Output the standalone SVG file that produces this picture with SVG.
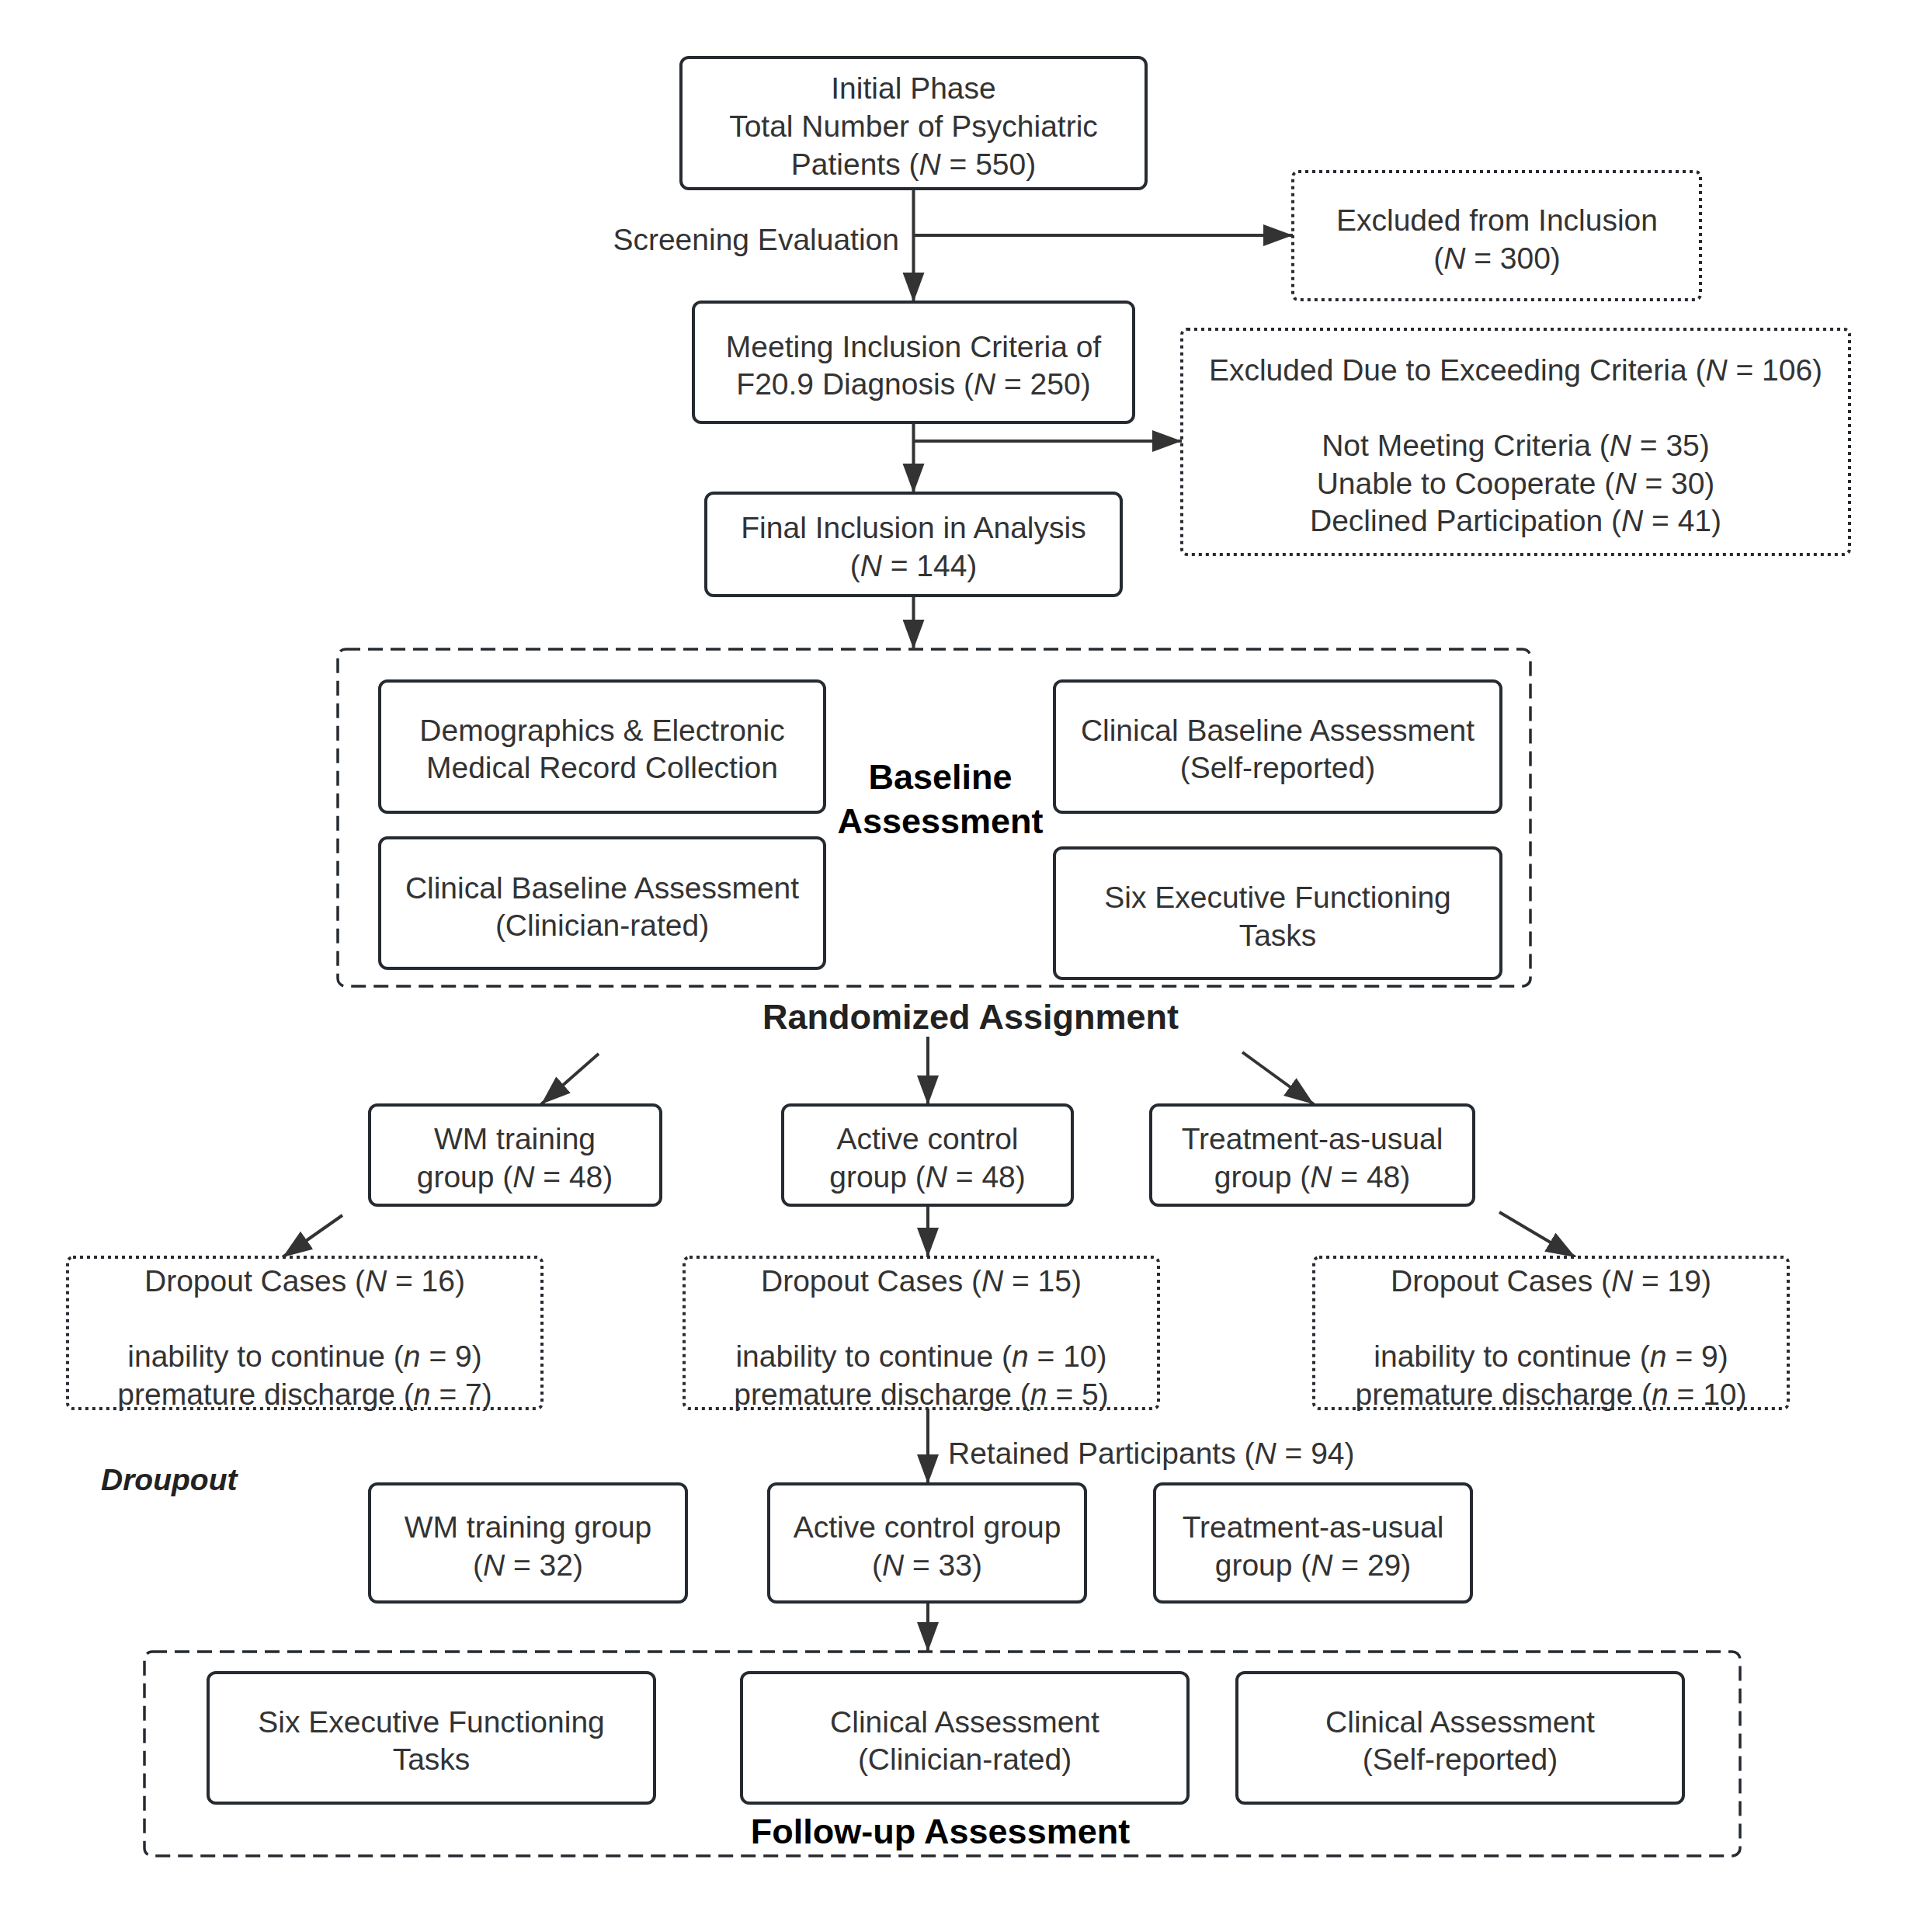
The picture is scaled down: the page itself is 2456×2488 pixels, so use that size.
<svg xmlns="http://www.w3.org/2000/svg" width="2456" height="2488" viewBox="0 0 2456 2488">
<style>
  .bg { fill: #ffffff; }
  .box { fill: #ffffff; stroke: #262b31; stroke-width: 4; }
  .dot { fill: #ffffff; stroke: #262b31; stroke-width: 4; stroke-dasharray: 4 5; }
  .dash { fill: none; stroke: #262b31; stroke-width: 3.5; stroke-dasharray: 19 10; }
  text { font-family: "Liberation Sans", Arial, "DejaVu Sans", sans-serif; font-size: 39px; fill: #333333; text-anchor: middle; }
  .title { font-weight: bold; font-size: 45px; fill: #000000; }
  .rand { font-weight: bold; font-size: 45px; fill: #222222; }
  .side { font-weight: bold; font-style: italic; fill: #222222; text-anchor: start; }
  .conn line { stroke: #333333; stroke-width: 4; fill: none; }
  .i { font-style: italic; }
</style>
<defs>
  <marker id="arrow" markerUnits="userSpaceOnUse" viewBox="0 0 38 28" markerWidth="38" markerHeight="28" refX="38" refY="14" orient="auto">
    <path d="M0,0 L38,14 L0,28 Z" fill="#333333"/>
  </marker>
</defs>
<rect class="bg" x="0" y="0" width="2456" height="2488"/>

<g id="baseline-cluster">
  <rect class="dash" x="435" y="836" width="1536" height="434" rx="10"/>
  <text class="title" x="1211" y="1016">Baseline</text>
  <text class="title" x="1211" y="1073">Assessment</text>
</g>
<g id="followup-cluster">
  <rect class="dash" x="186" y="2127" width="2055" height="263" rx="10"/>
  <text class="title" x="1211" y="2374">Follow-up Assessment</text>
</g>

<g class="conn" id="connectors">
  <line x1="1176.5" y1="243" x2="1176.5" y2="389" marker-end="url(#arrow)"/>
  <line x1="1176.5" y1="303" x2="1665" y2="303" marker-end="url(#arrow)"/>
  <line x1="1176.5" y1="544" x2="1176.5" y2="635" marker-end="url(#arrow)"/>
  <line x1="1176.5" y1="568" x2="1522" y2="568" marker-end="url(#arrow)"/>
  <line x1="1176.5" y1="767" x2="1176.5" y2="836" marker-end="url(#arrow)"/>
  <line x1="771" y1="1357" x2="697" y2="1422" marker-end="url(#arrow)"/>
  <line x1="1195" y1="1335" x2="1195" y2="1423" marker-end="url(#arrow)"/>
  <line x1="1600" y1="1355" x2="1692" y2="1422" marker-end="url(#arrow)"/>
  <line x1="441" y1="1565" x2="364" y2="1619" marker-end="url(#arrow)"/>
  <line x1="1195" y1="1552" x2="1195" y2="1619" marker-end="url(#arrow)"/>
  <line x1="1931" y1="1561" x2="2029" y2="1619" marker-end="url(#arrow)"/>
  <line x1="1195" y1="1814" x2="1195" y2="1911" marker-end="url(#arrow)"/>
  <line x1="1195" y1="2063" x2="1195" y2="2127" marker-end="url(#arrow)"/>
  <text x="1158" y="322" style="text-anchor:end">Screening Evaluation</text>
  <text x="1221" y="1885" style="text-anchor:start">Retained Participants (<tspan class="i">N</tspan> = 94)</text>
</g>

<g id="initial">
  <rect class="box" x="877" y="74" width="599" height="169" rx="10"/>
  <text x="1176.5" y="126.5">Initial Phase</text>
  <text x="1176.5" y="175.5">Total Number of Psychiatric</text>
  <text x="1176.5" y="224.5">Patients (<tspan class="i">N</tspan> = 550)</text>
</g>
<g id="excluded1">
  <rect class="dot" x="1665" y="221" width="525" height="165" rx="7"/>
  <text x="1928" y="296.5">Excluded from Inclusion</text>
  <text x="1928" y="345.5">(<tspan class="i">N</tspan> = 300)</text>
</g>
<g id="meeting">
  <rect class="box" x="893" y="389" width="567" height="155" rx="10"/>
  <text x="1176.5" y="459.5">Meeting Inclusion Criteria of</text>
  <text x="1176.5" y="508">F20.9 Diagnosis (<tspan class="i">N</tspan> = 250)</text>
</g>
<g id="excluded2">
  <rect class="dot" x="1522" y="424" width="860" height="290" rx="7"/>
  <text x="1952" y="490">Excluded Due to Exceeding Criteria (<tspan class="i">N</tspan> = 106)</text>
  <text x="1952" y="587">Not Meeting Criteria (<tspan class="i">N</tspan> = 35)</text>
  <text x="1952" y="635.5">Unable to Cooperate (<tspan class="i">N</tspan> = 30)</text>
  <text x="1952" y="684">Declined Participation (<tspan class="i">N</tspan> = 41)</text>
</g>
<g id="final">
  <rect class="box" x="909" y="635" width="535" height="132" rx="10"/>
  <text x="1176.5" y="693">Final Inclusion in Analysis</text>
  <text x="1176.5" y="742">(<tspan class="i">N</tspan> = 144)</text>
</g>

<g id="demographics">
  <rect class="box" x="489" y="877" width="573" height="169" rx="10"/>
  <text x="775.5" y="953.5">Demographics &amp; Electronic</text>
  <text x="775.5" y="1002">Medical Record Collection</text>
</g>
<g id="clin-baseline-rated">
  <rect class="box" x="489" y="1079" width="573" height="168" rx="10"/>
  <text x="775.5" y="1156.5">Clinical Baseline Assessment</text>
  <text x="775.5" y="1205">(Clinician-rated)</text>
</g>
<g id="clin-baseline-self">
  <rect class="box" x="1358" y="877" width="575" height="169" rx="10"/>
  <text x="1645.5" y="953.5">Clinical Baseline Assessment</text>
  <text x="1645.5" y="1002">(Self-reported)</text>
</g>
<g id="exec-baseline">
  <rect class="box" x="1358" y="1092" width="575" height="168" rx="10"/>
  <text x="1645.5" y="1169">Six Executive Functioning</text>
  <text x="1645.5" y="1218">Tasks</text>
</g>

<g id="randomized">
  <text class="rand" x="1250" y="1325">Randomized Assignment</text>
</g>

<g id="wm1">
  <rect class="box" x="476" y="1423" width="375" height="129" rx="10"/>
  <text x="663" y="1480">WM training</text>
  <text x="663" y="1529">group (<tspan class="i">N</tspan> = 48)</text>
</g>
<g id="active1">
  <rect class="box" x="1008" y="1423" width="373" height="129" rx="10"/>
  <text x="1194.5" y="1480">Active control</text>
  <text x="1194.5" y="1529">group (<tspan class="i">N</tspan> = 48)</text>
</g>
<g id="tau1">
  <rect class="box" x="1482" y="1423" width="416" height="129" rx="10"/>
  <text x="1690" y="1480">Treatment-as-usual</text>
  <text x="1690" y="1529">group (<tspan class="i">N</tspan> = 48)</text>
</g>

<g id="dropout-wm">
  <rect class="dot" x="87" y="1619" width="611" height="195" rx="7"/>
  <text x="392.5" y="1663">Dropout Cases (<tspan class="i">N</tspan> = 16)</text>
  <text x="392.5" y="1760">inability to continue (<tspan class="i">n</tspan> = 9)</text>
  <text x="392.5" y="1808.5">premature discharge (<tspan class="i">n</tspan> = 7)</text>
</g>
<g id="dropout-active">
  <rect class="dot" x="881" y="1619" width="611" height="195" rx="7"/>
  <text x="1186.5" y="1663">Dropout Cases (<tspan class="i">N</tspan> = 15)</text>
  <text x="1186.5" y="1760">inability to continue (<tspan class="i">n</tspan> = 10)</text>
  <text x="1186.5" y="1808.5">premature discharge (<tspan class="i">n</tspan> = 5)</text>
</g>
<g id="dropout-tau">
  <rect class="dot" x="1692" y="1619" width="611" height="195" rx="7"/>
  <text x="1997.5" y="1663">Dropout Cases (<tspan class="i">N</tspan> = 19)</text>
  <text x="1997.5" y="1760">inability to continue (<tspan class="i">n</tspan> = 9)</text>
  <text x="1997.5" y="1808.5">premature discharge (<tspan class="i">n</tspan> = 10)</text>
</g>

<g id="droupout-label">
  <text class="side" x="130" y="1919">Droupout</text>
</g>

<g id="wm2">
  <rect class="box" x="476" y="1911" width="408" height="152" rx="10"/>
  <text x="680" y="1980">WM training group</text>
  <text x="680" y="2029">(<tspan class="i">N</tspan> = 32)</text>
</g>
<g id="active2">
  <rect class="box" x="990" y="1911" width="408" height="152" rx="10"/>
  <text x="1194" y="1980">Active control group</text>
  <text x="1194" y="2029">(<tspan class="i">N</tspan> = 33)</text>
</g>
<g id="tau2">
  <rect class="box" x="1487" y="1911" width="408" height="152" rx="10"/>
  <text x="1691" y="1980">Treatment-as-usual</text>
  <text x="1691" y="2029">group (<tspan class="i">N</tspan> = 29)</text>
</g>

<g id="exec-followup">
  <rect class="box" x="268" y="2154" width="575" height="168" rx="10"/>
  <text x="555.5" y="2231">Six Executive Functioning</text>
  <text x="555.5" y="2279">Tasks</text>
</g>
<g id="clin-followup-rated">
  <rect class="box" x="955" y="2154" width="575" height="168" rx="10"/>
  <text x="1242.5" y="2231">Clinical Assessment</text>
  <text x="1242.5" y="2279">(Clinician-rated)</text>
</g>
<g id="clin-followup-self">
  <rect class="box" x="1593" y="2154" width="575" height="168" rx="10"/>
  <text x="1880.5" y="2231">Clinical Assessment</text>
  <text x="1880.5" y="2279">(Self-reported)</text>
</g>
</svg>
